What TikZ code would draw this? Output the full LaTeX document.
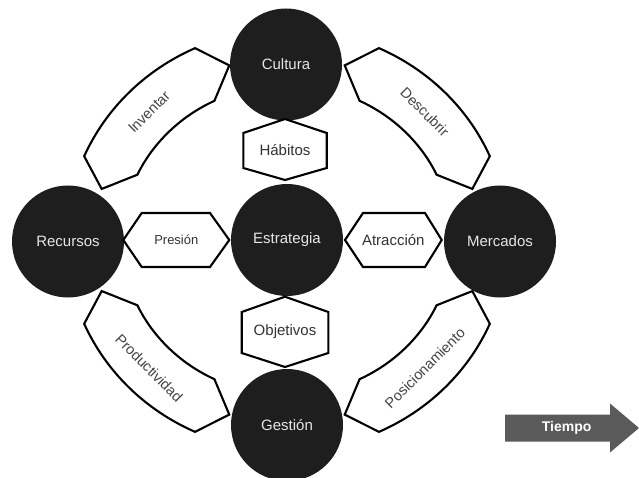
\documentclass[tikz,border=0pt]{standalone}
\usepackage{fontspec}
\setmainfont{Liberation Sans}
\usetikzlibrary{calc}
\definecolor{circfill}{HTML}{1E1E1E}
\definecolor{circtext}{HTML}{E6E6E6}
\definecolor{hextext}{HTML}{333333}
\definecolor{bandtext}{HTML}{444444}
\definecolor{arrowfill}{HTML}{5A5A5A}
\newcommand\bandpath[1]{%
  \draw[bandline] ($(O)+({#1+21}:221pt and 211pt)$)
    arc[start angle={#1+21}, end angle={#1-21}, x radius=221pt, y radius=211pt]
    -- ($(O)+({#1-28.2}:193pt and 183pt)$)
    -- ($(O)+({#1-19.5}:165pt and 155pt)$)
    arc[start angle={#1-19.5}, end angle={#1+19.5}, x radius=165pt, y radius=155pt]
    -- ($(O)+({#1+28.2}:193pt and 183pt)$) -- cycle;}
\begin{document}
\begin{tikzpicture}[x=1pt,y=1pt,
  bandline/.style={draw=black, fill=white, line width=2.1pt, line join=miter},
  hexline/.style={draw=black, fill=white, line width=2.1pt, line join=miter},
  circ/.style={circle, fill=circfill, minimum size=112pt, inner sep=0pt, text=circtext, font=\fontsize{15}{18}\selectfont},
  hextxt/.style={text=hextext, inner sep=0pt, font=\fontsize{15}{18}\selectfont},
  bandtxt/.style={text=bandtext, inner sep=0pt, font=\fontsize{14.5}{17}\selectfont},
  tiempotxt/.style={text=white, inner sep=0pt, font=\fontsize{14}{17}\selectfont\bfseries}]
\useasboundingbox (0,0) rectangle (639,477);
\coordinate (O) at (287,237);
% curved bands
\bandpath{44.4}
\bandpath{135.6}
\bandpath{224.4}
\bandpath{315.6}
\node[bandtxt, rotate=-45] (descubrir) at ($(O)+(44.4:193pt and 183pt)$) {Descubrir};
\node[bandtxt, rotate=45] (inventar) at ($(O)+(135.6:193pt and 183pt)$) {Inventar};
\node[bandtxt, rotate=-45] (productividad) at ($(O)+(224.4:193pt and 183pt)$) {Productividad};
\node[bandtxt, rotate=45] (posicionamiento) at ($(O)+(315.6:193pt and 183pt)$) {Posicionamiento};
% circles
\node[circ] (cultura) at (286,412.5) {Cultura};
\node[circ] (estrategia) at (287,237) {Estrategia};
\node[circ] (recursos) at (68,235.5) {Recursos};
\node[circ] (mercados) at (500,235.5) {Mercados};
\node[circ] (gestion) at (287,52) {Gestión};
% hexagons
\draw[hexline] (123.3,237) -- (141.7,264) -- (210,264) -- (229.3,237) -- (210,210) -- (141.7,210) -- cycle;
\node[hextxt, font=\fontsize{13}{16}\selectfont] (presion) at (176.3,237) {Presión};
\draw[hexline] (345,237) -- (363,264) -- (425,264) -- (441.7,237) -- (425,210) -- (363,210) -- cycle;
\node[hextxt] (atraccion) at (393.3,237) {Atracción};
\draw[hexline] (285,358) -- (326.7,344) -- (326.7,309) -- (285,297) -- (243.3,309) -- (243.3,344) -- cycle;
\node[hextxt] (habitos) at (285,327) {Hábitos};
\draw[hexline] (285,180.3) -- (328.3,165) -- (328.3,124) -- (285,110) -- (241.7,124) -- (241.7,165) -- cycle;
\node[hextxt] (objetivos) at (285,145) {Objetivos};
% time arrow
\fill[arrowfill] (505,35.5) -- (505,62.5) -- (610,62.5) -- (610,73.5) -- (639,49) -- (610,24.5) -- (610,35.5) -- cycle;
\node[tiempotxt] (tiempo) at (566.7,49) {Tiempo};
\end{tikzpicture}
\end{document}
